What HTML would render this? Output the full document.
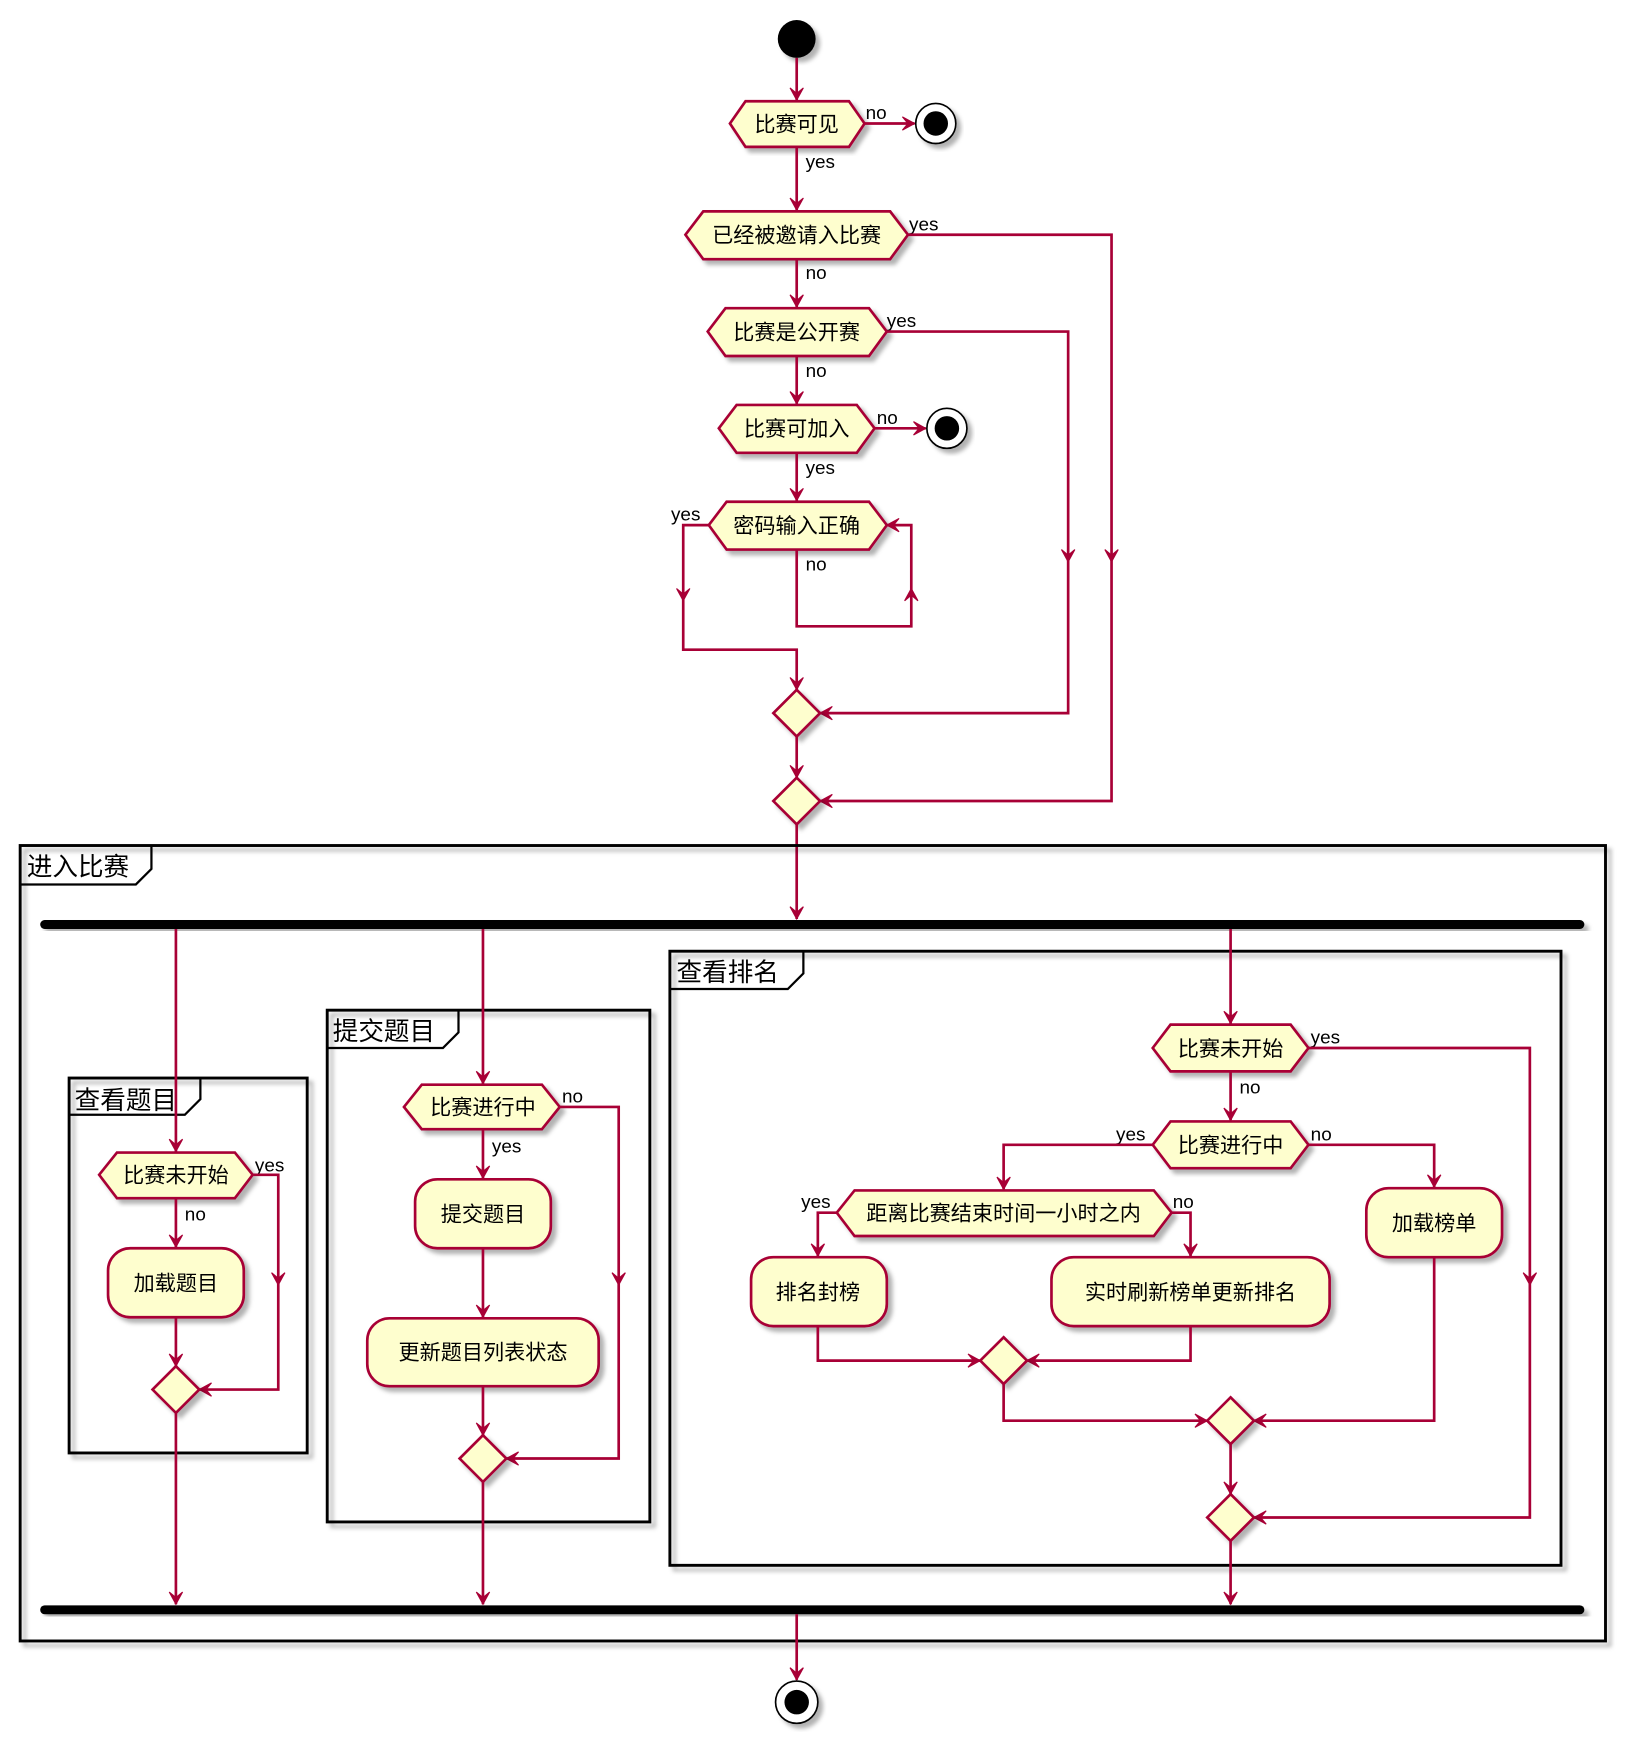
<!DOCTYPE html>
<html><head><meta charset="utf-8"><style>
html,body{margin:0;padding:0;background:#fff}
svg{display:block}
text{font-family:"Liberation Sans","Noto Sans CJK SC",sans-serif;fill:#000}
.l{stroke:#A80036;stroke-width:2.4;fill:none}
.a{fill:#A80036;stroke:#A80036;stroke-width:1}
.n{fill:#FEFECE;stroke:#A80036;stroke-width:2.4;filter:url(#sh)}
.f{fill:none;stroke:#000;stroke-width:2.6;filter:url(#sh)}
.t{font-size:19px}
.s{font-size:17px}
.ft{font-size:23px}
</style></head><body>
<svg width="1629" height="1750" viewBox="0 0 1464 1573" xmlns="http://www.w3.org/2000/svg">
<defs>
<filter id="sh" x="-10%" y="-10%" width="130%" height="130%"><feDropShadow dx="4" dy="4" stdDeviation="2" flood-color="#000" flood-opacity="0.3"/></filter>
<g id="ad"><polygon class="a" points="-6,-11 0,0 6,-11 0,-6"/></g>
</defs>

<circle cx="716" cy="35" r="17" fill="#000" filter="url(#sh)"/>
<path class="l" d="M716,52 V90"/><use href="#ad" x="716" y="90"/>

<polygon class="n" points="656,111 670,91 763,91 777,111 763,132 670,132"/>
<text class="t" x="716" y="118" text-anchor="middle">比赛可见</text>
<path class="l" d="M777,111 H822"/><polygon class="a" points="811,105 822,111 811,117 816,111"/>
<text class="s" x="778" y="107">no</text>
<circle cx="841" cy="111" r="18" fill="#fff" stroke="#000" stroke-width="1.5" filter="url(#sh)"/><circle cx="841" cy="111" r="11" fill="#000"/>
<text class="s" x="724" y="151">yes</text>
<path class="l" d="M716,132 V189"/><use href="#ad" x="716" y="189"/>

<polygon class="n" points="616,211 632,190 800,190 816,211 800,233 632,233"/>
<text class="t" x="716" y="218" text-anchor="middle">已经被邀请入比赛</text>
<text class="s" x="817" y="207">yes</text>
<path class="l" d="M816,211 H999 V720 H737"/><use href="#ad" x="999" y="505"/>
<polygon class="a" points="748,714 737,720 748,726 743,720"/>
<text class="s" x="724" y="251">no</text>
<path class="l" d="M716,233 V276"/><use href="#ad" x="716" y="276"/>

<polygon class="n" points="636,298 652,277 781,277 797,298 781,320 652,320"/>
<text class="t" x="716" y="305" text-anchor="middle">比赛是公开赛</text>
<text class="s" x="797" y="294">yes</text>
<path class="l" d="M797,298 H960 V641 H737"/><use href="#ad" x="960" y="505"/>
<polygon class="a" points="748,635 737,641 748,647 743,641"/>
<text class="s" x="724" y="339">no</text>
<path class="l" d="M716,320 V363"/><use href="#ad" x="716" y="363"/>

<polygon class="n" points="646,385 662,364 770,364 786,385 770,407 662,407"/>
<text class="t" x="716" y="392" text-anchor="middle">比赛可加入</text>
<path class="l" d="M786,385 H832"/><polygon class="a" points="821,379 832,385 821,391 826,385"/>
<text class="s" x="788" y="381">no</text>
<circle cx="851" cy="385" r="18" fill="#fff" stroke="#000" stroke-width="1.5" filter="url(#sh)"/><circle cx="851" cy="385" r="11" fill="#000"/>
<text class="s" x="724" y="426">yes</text>
<path class="l" d="M716,407 V450"/><use href="#ad" x="716" y="450"/>

<polygon class="n" points="637,472 653,451 781,451 797,472 781,494 653,494"/>
<text class="t" x="716" y="479" text-anchor="middle">密码输入正确</text>
<text class="s" x="603" y="468">yes</text>
<path class="l" d="M637,472 H614 V584 H716 V620"/><use href="#ad" x="614" y="540"/><use href="#ad" x="716" y="620"/>
<text class="s" x="724" y="513">no</text>
<path class="l" d="M716,494 V563 H819 V472 H797"/>
<polygon class="a" points="813,540 819,529 825,540 819,535"/>
<polygon class="a" points="808,466 797,472 808,478 803,472"/>

<polygon class="n" points="716,620 737,641 716,662 695,641"/>
<path class="l" d="M716,662 V699"/><use href="#ad" x="716" y="699"/>
<polygon class="n" points="716,699 737,720 716,741 695,720"/>
<path class="l" d="M716,741 V826"/><use href="#ad" x="716" y="826"/>

<rect class="f" x="18" y="760" width="1425" height="715"/>
<path d="M18,795 H122 L136,781 V760" fill="none" stroke="#000" stroke-width="2"/>
<text class="ft" x="24" y="787">进入比赛</text>

<rect x="36" y="827" width="1388" height="8" rx="4" fill="#000" filter="url(#sh)"/>

<rect class="f" x="62" y="969" width="214" height="337"/>
<path d="M62,1002 H166 L180,988 V969" fill="none" stroke="#000" stroke-width="2"/>
<text class="ft" x="67" y="997">查看题目</text>
<path class="l" d="M158,835 V1035"/><use href="#ad" x="158" y="1035"/>
<polygon class="n" points="89,1056 105,1036 211,1036 227,1056 211,1077 105,1077"/>
<text class="t" x="158" y="1063" text-anchor="middle">比赛未开始</text>
<text class="s" x="229" y="1053">yes</text>
<path class="l" d="M227,1056 H250 V1249 H179"/><use href="#ad" x="250" y="1155"/>
<polygon class="a" points="190,1243 179,1249 190,1255 185,1249"/>
<text class="s" x="166" y="1097">no</text>
<path class="l" d="M158,1077 V1121"/><use href="#ad" x="158" y="1121"/>
<rect class="n" x="97" y="1122" width="122" height="62" rx="20"/>
<text class="t" x="158" y="1160" text-anchor="middle">加载题目</text>
<path class="l" d="M158,1184 V1228"/><use href="#ad" x="158" y="1228"/>
<polygon class="n" points="158,1228 179,1249 158,1270 137,1249"/>
<path class="l" d="M158,1270 V1442"/><use href="#ad" x="158" y="1442"/>

<rect class="f" x="294" y="908" width="290" height="460"/>
<path d="M294,942 H398 L412,928 V908" fill="none" stroke="#000" stroke-width="2"/>
<text class="ft" x="299" y="935">提交题目</text>
<path class="l" d="M434,835 V974"/><use href="#ad" x="434" y="974"/>
<polygon class="n" points="363,995 379,975 487,975 503,995 487,1015 379,1015"/>
<text class="t" x="434" y="1002" text-anchor="middle">比赛进行中</text>
<text class="s" x="505" y="991">no</text>
<path class="l" d="M503,995 H556 V1311 H455"/><use href="#ad" x="556" y="1155"/>
<polygon class="a" points="466,1305 455,1311 466,1317 461,1311"/>
<text class="s" x="442" y="1036">yes</text>
<path class="l" d="M434,1015 V1059"/><use href="#ad" x="434" y="1059"/>
<rect class="n" x="373" y="1060" width="122" height="62" rx="20"/>
<text class="t" x="434" y="1098" text-anchor="middle">提交题目</text>
<path class="l" d="M434,1122 V1184"/><use href="#ad" x="434" y="1184"/>
<rect class="n" x="330" y="1185" width="208" height="61" rx="20"/>
<text class="t" x="434" y="1222" text-anchor="middle">更新题目列表状态</text>
<path class="l" d="M434,1246 V1290"/><use href="#ad" x="434" y="1290"/>
<polygon class="n" points="434,1290 455,1311 434,1332 413,1311"/>
<path class="l" d="M434,1332 V1442"/><use href="#ad" x="434" y="1442"/>

<rect class="f" x="602" y="855" width="801" height="552"/>
<path d="M602,889 H708 L722,875 V855" fill="none" stroke="#000" stroke-width="2"/>
<text class="ft" x="608" y="882">查看排名</text>
<path class="l" d="M1106,835 V920"/><use href="#ad" x="1106" y="920"/>
<polygon class="n" points="1036,942 1052,921 1160,921 1176,942 1160,963 1052,963"/>
<text class="t" x="1106" y="949" text-anchor="middle">比赛未开始</text>
<text class="s" x="1178" y="938">yes</text>
<path class="l" d="M1176,942 H1375 V1364 H1127"/><use href="#ad" x="1375" y="1155"/>
<polygon class="a" points="1138,1358 1127,1364 1138,1370 1133,1364"/>
<text class="s" x="1114" y="983">no</text>
<path class="l" d="M1106,963 V1007"/><use href="#ad" x="1106" y="1007"/>
<polygon class="n" points="1036,1029 1052,1008 1160,1008 1176,1029 1160,1050 1052,1050"/>
<text class="t" x="1106" y="1036" text-anchor="middle">比赛进行中</text>
<text class="s" x="1003" y="1025">yes</text>
<text class="s" x="1178" y="1025">no</text>
<path class="l" d="M1036,1029 H902 V1069"/><use href="#ad" x="902" y="1069"/>
<path class="l" d="M1176,1029 H1289 V1067"/><use href="#ad" x="1289" y="1067"/>
<rect class="n" x="1228" y="1068" width="122" height="62" rx="20"/>
<text class="t" x="1289" y="1106" text-anchor="middle">加载榜单</text>
<polygon class="n" points="752,1090 768,1070 1037,1070 1053,1090 1037,1111 768,1111"/>
<text class="t" x="902" y="1097" text-anchor="middle">距离比赛结束时间一小时之内</text>
<text class="s" x="720" y="1086">yes</text>
<text class="s" x="1054" y="1086">no</text>
<path class="l" d="M752,1090 H735 V1129"/><use href="#ad" x="735" y="1129"/>
<path class="l" d="M1053,1090 H1070 V1129"/><use href="#ad" x="1070" y="1129"/>
<rect class="n" x="675" y="1130" width="122" height="62" rx="20"/>
<text class="t" x="735" y="1168" text-anchor="middle">排名封榜</text>
<rect class="n" x="945" y="1130" width="250" height="62" rx="20"/>
<text class="t" x="1070" y="1168" text-anchor="middle">实时刷新榜单更新排名</text>
<path class="l" d="M735,1192 V1223 H881"/><polygon class="a" points="870,1217 881,1223 870,1229 875,1223"/>
<path class="l" d="M1070,1192 V1223 H923"/><polygon class="a" points="934,1217 923,1223 934,1229 929,1223"/>
<polygon class="n" points="902,1202 923,1223 902,1244 881,1223"/>
<path class="l" d="M902,1244 V1277 H1085"/><polygon class="a" points="1074,1271 1085,1277 1074,1283 1079,1277"/>
<path class="l" d="M1289,1130 V1277 H1127"/><polygon class="a" points="1138,1271 1127,1277 1138,1283 1133,1277"/>
<polygon class="n" points="1106,1256 1127,1277 1106,1298 1085,1277"/>
<path class="l" d="M1106,1298 V1343"/><use href="#ad" x="1106" y="1343"/>
<polygon class="n" points="1106,1343 1127,1364 1106,1385 1085,1364"/>
<path class="l" d="M1106,1385 V1442"/><use href="#ad" x="1106" y="1442"/>

<rect x="36" y="1443" width="1388" height="8" rx="4" fill="#000" filter="url(#sh)"/>
<path class="l" d="M716,1451 V1510"/><use href="#ad" x="716" y="1510"/>
<circle cx="716" cy="1530" r="19" fill="#fff" stroke="#000" stroke-width="1.5" filter="url(#sh)"/><circle cx="716" cy="1530" r="11" fill="#000"/>
</svg>
</body></html>
